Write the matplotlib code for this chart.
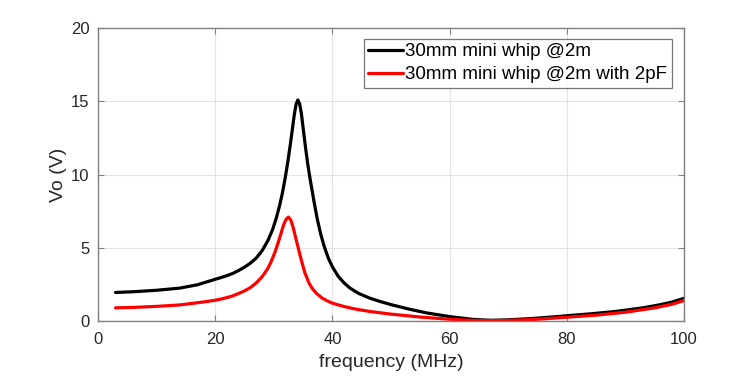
import matplotlib
matplotlib.use("Agg")
import matplotlib.pyplot as plt

plt.rcParams['font.family'] = ['Liberation Sans', 'DejaVu Sans']

freq_black = [3, 6, 10, 14, 17, 20, 21, 22, 23, 24, 25, 26, 27, 28, 29, 29.8, 30.4, 31, 31.5, 32, 32.4,
              32.8, 33.2, 33.5, 33.8, 34.1, 34.4, 34.7, 35.0, 35.4, 35.8, 36.2, 36.8, 37.4, 38, 38.6, 39.3,
              40, 41, 42, 43, 44.5, 46.4, 48, 50, 53, 56, 60, 64, 67, 70, 74, 78, 80, 84, 88, 90, 93, 96,
              98, 100]
vo_black = [1.95, 2.0, 2.1, 2.25, 2.48, 2.85, 2.97, 3.1, 3.25, 3.45, 3.68, 3.95, 4.3, 4.8, 5.5, 6.25, 7.0,
            7.9, 8.8, 9.9, 10.9, 12.0, 13.2, 14.1, 14.8, 15.1, 14.85, 14.2, 13.2, 11.9, 10.7, 9.7, 8.3, 7.0,
            5.95, 5.1, 4.3, 3.7, 3.05, 2.6, 2.25, 1.88, 1.56, 1.35, 1.12, 0.82, 0.56, 0.3, 0.11, 0.05, 0.08,
            0.17, 0.29, 0.36, 0.49, 0.64, 0.74, 0.9, 1.12, 1.3, 1.55]

freq_red = [3, 6, 10, 14, 18, 20, 21, 22, 23, 24, 25, 26, 27, 28, 29, 29.6, 30.2, 30.7, 31.2, 31.7, 32.1,
            32.5, 32.9, 33.3, 33.7, 34.2, 34.7, 35.3, 36, 36.6, 37.3, 38.2, 39, 40, 41, 42, 44, 46.4, 50,
            55, 60, 64, 67, 70, 75, 80, 85, 90, 95, 98, 100]
vo_red = [0.9, 0.93, 1.0, 1.1, 1.3, 1.42, 1.5, 1.6, 1.72, 1.88, 2.06, 2.28, 2.6, 3.02, 3.6, 4.1, 4.7, 5.3,
          5.95, 6.6, 6.95, 7.1, 6.9, 6.4, 5.75, 4.95, 4.15, 3.3, 2.6, 2.2, 1.88, 1.58, 1.4, 1.22, 1.1, 0.99,
          0.81, 0.65, 0.47, 0.27, 0.12, 0.04, 0.02, 0.04, 0.12, 0.26, 0.4, 0.6, 0.9, 1.15, 1.4]

labels = ["30mm mini whip @2m", "30mm mini whip @2m with 2pF"]
xticks = [0, 20, 40, 60, 80, 100]
yticks = [0, 5, 10, 15, 20]

fig = plt.figure(figsize=(7.56, 3.77), dpi=100)
ax = fig.add_axes([0.1296, 0.1485, 0.7752, 0.7765])

for x, y, c, lab in [(freq_black, vo_black, 'black', labels[0]), (freq_red, vo_red, '#ff0000', labels[1])]:
    ax.plot(x, y, color=c, lw=2.3, label=lab, solid_joinstyle='round', solid_capstyle='round')

ax.set_xlim(0, 100)
ax.set_ylim(0, 20)
ax.set_xticks(xticks)
ax.set_yticks(yticks)
ax.grid(True, color='#e3e3e3', lw=0.8)
ax.set_axisbelow(True)
for s in ax.spines.values():
    s.set_color('#808080')
    s.set_linewidth(1.0)
ax.tick_params(direction='in', length=4, color='#808080', labelsize=12, labelcolor='#262626',
               top=True, right=True)
ax.tick_params(axis='x', pad=8)
ax.tick_params(axis='y', pad=6)
ax.set_xlabel('frequency (MHz)', fontsize=14, color='#262626', labelpad=5)
ax.set_ylabel('Vo (V)', fontsize=14, color='#262626', labelpad=3)

leg = ax.legend(loc='upper right', bbox_to_anchor=(0.9795, 0.965), fontsize=13.5, frameon=True,
                fancybox=False, edgecolor='#555555', handlelength=1.85, handletextpad=0.12,
                borderpad=0.25, labelspacing=0.3, borderaxespad=0.0)
leg.get_frame().set_linewidth(0.9)

fig.savefig('out.png', dpi=100)
